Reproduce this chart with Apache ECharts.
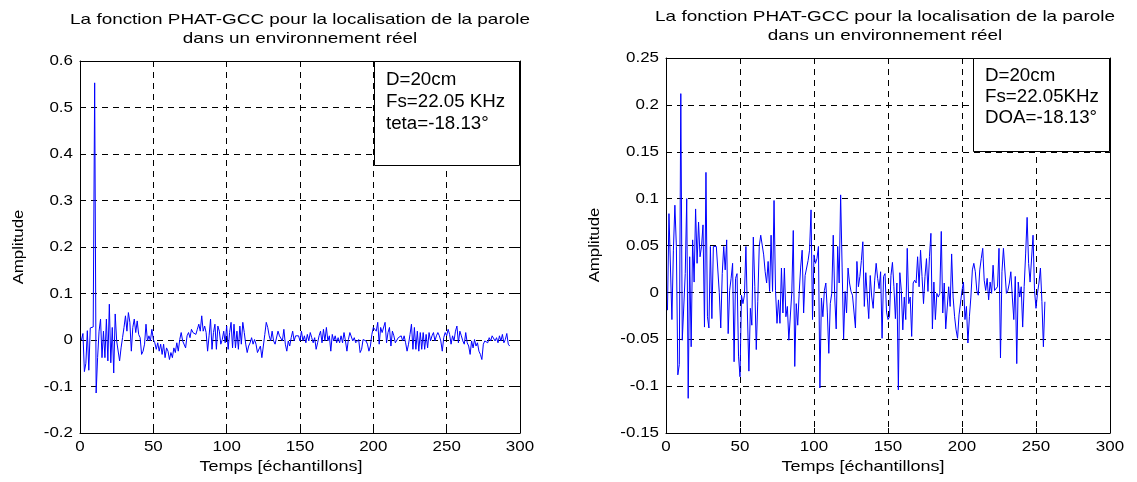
<!DOCTYPE html>
<html><head><meta charset="utf-8">
<script src="https://cdn.jsdelivr.net/npm/echarts/dist/echarts.min.js"></script>
<style>html,body{margin:0;padding:0;background:#fff}#c{width:1137px;height:482px}</style>
</head><body><div id="c"></div>
<script>
// Left panel: PHAT-GCC amplitude per sample (teta=-18.13°)
const leftAmplitude = [
0.000, 0.014, -0.068, -0.050, 0.020, -0.065, 0.026, 0.026, 0.028, 0.553, -0.114,
-0.038, 0.019, 0.045, -0.038, 0.019, -0.038, 0.045, -0.045, 0.077, -0.049,
0.027, -0.071, 0.056, -0.002, -0.002, -0.045, -0.017, 0.005, 0.027, 0.052,
0.019, 0.059, 0.038, -0.024, 0.027, 0.045, 0.016, 0.041, 0.012, 0.005,
-0.031, -0.024, -0.009, 0.034, -0.002, 0.009, -0.002, 0.023, 0.001, -0.006,
-0.020, -0.006, -0.024, -0.009, -0.031, -0.009, -0.038, -0.017, -0.024, -0.042,
-0.027, -0.038, -0.017, -0.027, -0.006, -0.024, 0.001, 0.016, -0.002, 0.001,
-0.017, 0.009, 0.016, 0.005, 0.023, 0.016, 0.019, 0.012, 0.023, 0.034,
0.019, 0.052, 0.019, 0.030, 0.016, -0.024, 0.009, 0.045, -0.020, 0.016,
0.034, -0.020, 0.030, 0.019, -0.009, 0.001, 0.019, -0.006, 0.030, -0.020,
0.016, 0.038, -0.017, 0.034, -0.017, 0.019, -0.020, 0.030, -0.009, 0.038,
0.016, -0.009, -0.027, -0.013, -0.006, 0.005, -0.009, 0.001, -0.009, -0.027,
-0.024, -0.013, -0.038, -0.013, 0.012, 0.038, 0.027, 0.009, -0.002, 0.019,
-0.002, -0.009, -0.006, 0.019, 0.009, 0.012, -0.002, 0.023, -0.009, -0.024,
-0.002, -0.013, 0.005, 0.019, -0.002, 0.009, 0.005, 0.009,
-0.002, 0.019, -0.002, 0.009, -0.006, 0.012, -0.002, 0.016, 0.005, -0.006,
0.005, -0.020, -0.006, 0.009, 0.019, -0.006, 0.023, -0.002, 0.027, -0.002,
0.009, -0.024, 0.012, -0.002, 0.009, -0.006, 0.005, -0.006, 0.009, -0.006,
0.016, -0.002, -0.024, 0.001, 0.016, 0.016, -0.002, 0.005, -0.006, -0.006,
0.001, -0.027, -0.020, 0.001, 0.005, -0.002, -0.009, -0.024, -0.013, 0.012,
0.027, 0.030, 0.019, 0.038, -0.009, 0.027, 0.016, 0.019, 0.038, -0.006,
0.016, 0.027, -0.013, 0.019, 0.009, -0.006, -0.002, 0.005, 0.001, 0.009,
-0.002, 0.009, -0.006, -0.024, -0.009, 0.012, 0.034, -0.020, 0.027, -0.020,
0.019, -0.024, 0.016, -0.020, 0.016, -0.020, 0.012, -0.017, 0.016, -0.002,
0.009, 0.016, -0.002, 0.009, 0.016, 0.009, -0.002, -0.024, 0.005, 0.016,
0.009, 0.023, 0.012, -0.009, 0.009, -0.002, 0.019, 0.030, -0.006, 0.019,
0.009, -0.002, -0.009, 0.016, -0.006, -0.013, -0.031, -0.002, -0.017, 0.001,
-0.013, -0.006, -0.024, -0.031, -0.042, -0.009, -0.002, -0.002, -0.006, 0.005,
-0.002, 0.009, 0.012, -0.002, 0.005, -0.006, 0.009, -0.002, 0.012, -0.006,
0.001, 0.014, -0.009, -0.013
];

// Right panel: PHAT-GCC amplitude per sample (DOA=-18.13°)
const rightAmplitude = [
-0.019, 0.084, 0.084, -0.029, 0.045, 0.093, 0.049, -0.088, -0.077, 0.212,
-0.051, -0.051, 0.020, 0.100, -0.113, 0.038, -0.058, 0.056, 0.011, 0.089,
0.031, 0.075, 0.038, 0.049, 0.072, -0.037, 0.128, -0.026, -0.038, 0.049,
-0.028, 0.049, 0.049, 0.049, 0.049, 0.000, -0.038, 0.020, 0.049, 0.024,
0.056, -0.044, 0.002, 0.015, 0.031, -0.074, 0.015, 0.020, -0.068, -0.090,
-0.003, -0.012, -0.003, 0.049, -0.022, -0.084, -0.017, -0.035, 0.059, 0.006,
-0.061, -0.010, 0.049, 0.061,
0.061, 0.040, 0.022, 0.010, 0.033, 0.001, 0.061, 0.001, 0.098, 0.002,
-0.033, -0.008, -0.033, 0.026, -0.022, 0.026, -0.026, -0.015, -0.051, -0.051,
0.000, 0.066, -0.079, -0.012, -0.035, 0.000, 0.027, 0.045, -0.022, 0.018,
0.020, 0.034, 0.045, 0.088, -0.029, 0.040, 0.031, 0.036, 0.049, -0.102,
-0.006, -0.026, 0.002, 0.010, -0.021, -0.065, -0.012, -0.001, 0.061, -0.005,
-0.039, 0.049, 0.010, 0.104, 0.027, -0.050, 0.001, -0.022, 0.026, 0.010,
0.001, -0.003,
-0.005, -0.038, 0.033, 0.006, 0.017, 0.034, 0.054, -0.015, 0.021, -0.005,
-0.028, 0.018, -0.005, -0.017, 0.013, 0.031, 0.015, 0.004, 0.022, -0.049,
0.017, 0.020, -0.021, -0.029, -0.026, 0.018, 0.032, 0.006, -0.028, 0.010,
-0.104, 0.021, 0.002, -0.040, -0.005, -0.029, 0.047, -0.012, -0.005, -0.047,
0.010, 0.013, 0.010, 0.038, 0.006, 0.045, 0.017, -0.012, 0.017, 0.036,
0.001, 0.038, 0.063, -0.039, 0.011, -0.029, -0.001, -0.005, -0.001, 0.065,
-0.022, 0.010, -0.039, -0.037, 0.006,
-0.015, 0.041, -0.005, -0.026, -0.040, -0.049, -0.024, -0.022, 0.002, 0.011,
-0.029, -0.015, -0.054, -0.026, -0.005, 0.024, 0.031, 0.022, 0.002, -0.003,
0.024, 0.036, 0.047, 0.013, 0.002, 0.015, -0.008, 0.011, -0.001, 0.029,
0.002, 0.001, 0.006, 0.047, -0.070, 0.022, 0.047, 0.049, -0.001, 0.002,
0.010, 0.022, -0.005, -0.029, 0.017, -0.076, 0.011, -0.005, 0.006, -0.037,
0.006, 0.041, 0.080, 0.031, 0.011, 0.013, 0.061, 0.002, -0.017, -0.001,
0.010, 0.026, -0.010, -0.058, -0.010
];

// Tick labels
const xTickLabels = ['0', '50', '100', '150', '200', '250', '300'];
const leftYTickLabels = ['-0.2', '-0.1', '0', '0.1', '0.2', '0.3', '0.4', '0.5', '0.6'];
const rightYTickLabels = ['-0.15', '-0.1', '-0.05', '0', '0.05', '0.1', '0.15', '0.2', '0.25'];

const titleLines = ['La fonction PHAT-GCC pour la localisation de la parole', 'dans un environnement réel'];
const xName = 'Temps [échantillons]';
const yName = 'Amplitude';
const leftLegendLines = ['D=20cm', 'Fs=22.05 KHz', 'teta=-18.13°'];
const rightLegendLines = ['D=20cm', 'Fs=22.05KHz', 'DOA=-18.13°'];

const FONT = 'Arial, "Liberation Sans", Helvetica, sans-serif';
const toPairs = arr => arr.map((v, i) => [i + 1, v]);
const num = s => parseFloat(s);
const xMin = num(xTickLabels[0]), xMax = num(xTickLabels[xTickLabels.length - 1]);
const xStep = num(xTickLabels[1]) - xMin;
const lyMin = num(leftYTickLabels[0]), lyMax = num(leftYTickLabels[leftYTickLabels.length - 1]);
const ryMin = num(rightYTickLabels[0]), ryMax = num(rightYTickLabels[rightYTickLabels.length - 1]);

const grids = [
  { left: 80, top: 61, width: 440, height: 372 },
  { left: 666, top: 58, width: 444, height: 375 }
];

const AX_LINE = { show: true, onZero: false, lineStyle: { color: '#000', width: 1 } };
const AX_TICK = { show: true, inside: true, length: 5, lineStyle: { color: '#000' } };
const SPLIT = { show: true, lineStyle: { color: '#000', type: [6, 5], width: 1 } };

function xAx(gi, pos) {
  return { type: 'value', gridIndex: gi, position: pos, min: xMin, max: xMax, interval: xStep,
    axisLine: AX_LINE, axisTick: AX_TICK, axisLabel: { show: false },
    splitLine: pos === 'bottom' ? SPLIT : { show: false } };
}
function yAx(gi, pos, lo, hi, step) {
  return { type: 'value', gridIndex: gi, position: pos, min: lo, max: hi, interval: step,
    axisLine: AX_LINE, axisTick: AX_TICK, axisLabel: { show: false },
    splitLine: pos === 'left' ? SPLIT : { show: false } };
}

const chart = echarts.init(document.getElementById('c'), null, { renderer: 'canvas' });
chart.setOption({
  animation: false,
  backgroundColor: '#fff',
  grid: grids,
  xAxis: [xAx(0, 'bottom'), xAx(1, 'bottom'), xAx(0, 'top'), xAx(1, 'top')],
  yAxis: [yAx(0, 'left', lyMin, lyMax, 0.1), yAx(1, 'left', ryMin, ryMax, 0.05),
          yAx(0, 'right', lyMin, lyMax, 0.1), yAx(1, 'right', ryMin, ryMax, 0.05)],
  series: [
    { type: 'line', xAxisIndex: 0, yAxisIndex: 0, data: toPairs(leftAmplitude), showSymbol: false,
      lineStyle: { color: '#0000ff', width: 1 }, itemStyle: { color: '#0000ff' }, z: 5 },
    { type: 'line', xAxisIndex: 1, yAxisIndex: 1, data: toPairs(rightAmplitude), showSymbol: false,
      lineStyle: { color: '#0000ff', width: 1 }, itemStyle: { color: '#0000ff' }, z: 5 }
  ]
});

function T(text, x, y, o) {
  o = o || {};
  return { type: 'text', z: 101, x: x, y: y, rotation: o.rot || 0, scaleX: o.sx || 1, scaleY: 1,
    style: { text: text, fill: '#000', font: (o.size || 15) + 'px ' + FONT,
      align: o.align || 'center', verticalAlign: o.va || 'middle' } };
}

const g = [];
// tick labels through the axes' own scales
[[0, leftYTickLabels], [1, rightYTickLabels]].forEach(([gi, labels]) => {
  const gr = grids[gi];
  labels.forEach(l => {
    const p = chart.convertToPixel({ yAxisIndex: gi }, num(l));
    g.push(T(l, gr.left - 7, p, { align: 'right', sx: 1.13 }));
  });
  xTickLabels.forEach(l => {
    const p = chart.convertToPixel({ xAxisIndex: gi }, num(l));
    g.push(T(l, p, gr.top + gr.height + 14, { sx: 1.13 }));
  });
});
// titles, axis names
g.push(T(titleLines[0], 300, 20, { sx: 1.26 }), T(titleLines[1], 300, 39, { sx: 1.26 }));
g.push(T(titleLines[0], 885, 17, { sx: 1.26 }), T(titleLines[1], 885, 36, { sx: 1.26 }));
g.push(T(xName, 281, 467, { sx: 1.2 }), T(xName, 863, 467, { sx: 1.2 }));
g.push(T(yName, 19, 247, { rot: Math.PI / 2, sx: 1.12 }), T(yName, 595, 245, { rot: Math.PI / 2, sx: 1.12 }));
// annotation boxes
function box(x, y, w, h, lines, tx, ty, lh) {
  g.push({ type: 'rect', z: 100, shape: { x: x, y: y, width: w, height: h },
    style: { fill: '#fff', stroke: '#000', lineWidth: 1 } });
  lines.forEach((t, i) => g.push(T(t, tx, ty + i * lh, { align: 'left', va: 'middle', size: 18, sx: 1.04 })));
}
box(374.5, 61.5, 145, 104, leftLegendLines, 386, 80, 22);
box(973.5, 58.5, 136, 93, rightLegendLines, 985, 76.5, 21);

chart.setOption({ graphic: g });
</script>
</body></html>
